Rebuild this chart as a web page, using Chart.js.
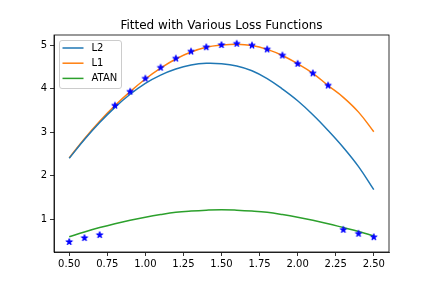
<!DOCTYPE html>
<html>
<head>
<meta charset="utf-8">
<script src="https://cdn.jsdelivr.net/npm/chart.js@4"></script>
<style>
  html, body { margin: 0; padding: 0; background: #fff; }
</style>
</head>
<body>
<canvas id="chart" width="432" height="288"></canvas>
<script>
const xs = [0.5, 0.6, 0.7, 0.8, 0.9, 1.0, 1.1, 1.2, 1.3, 1.4, 1.5,
            1.6, 1.7, 1.8, 1.9, 2.0, 2.1, 2.2, 2.3, 2.4, 2.5]
const observed = [0.48, 0.57, 0.64, 3.61, 3.93, 4.23, 4.48, 4.69, 4.85, 4.95, 5.0,
                  5.03, 4.99, 4.90, 4.76, 4.57, 4.35, 4.07, 0.76, 0.67, 0.59]

// fitted curves
const fitL2 = [2.40, 2.83, 3.22, 3.57, 3.87, 4.12, 4.31, 4.45, 4.54, 4.58, 4.57,
               4.52, 4.41, 4.23, 3.99, 3.72, 3.40, 3.04, 2.65, 2.21, 1.68]
const fitL1 = [2.41, 2.85, 3.25, 3.61, 3.93, 4.22, 4.47, 4.68, 4.84, 4.95, 5.00,
               5.02, 4.99, 4.90, 4.76, 4.57, 4.35, 4.07, 3.80, 3.46, 3.01]
const fitAtan = [0.60, 0.71, 0.81, 0.90, 0.98, 1.05, 1.11, 1.16, 1.19, 1.21, 1.22,
                 1.21, 1.19, 1.16, 1.11, 1.05, 0.98, 0.90, 0.81, 0.72, 0.62]

const xTicks = [0.5, 0.75, 1.0, 1.25, 1.5, 1.75, 2.0, 2.25, 2.5]
const yTicks = [1, 2, 3, 4, 5]

const title = 'Fitted with Various Loss Functions'
const FONT = 'DejaVu Sans'

const pts = (ys) => xs.map((x, i) => ({ x: x, y: ys[i] }))

// matplotlib-like filled star marker
function starMarker(color, r) {
  const size = Math.ceil(r * 2 + 3)
  const c = document.createElement('canvas')
  c.width = size
  c.height = size
  const g = c.getContext('2d')
  const cx = size / 2, cy = size / 2, inner = r * 0.381
  g.beginPath()
  for (let i = 0; i < 10; i++) {
    const rad = i % 2 === 0 ? r : inner
    const a = -Math.PI / 2 + i * Math.PI / 5
    const px = cx + rad * Math.cos(a), py = cy + rad * Math.sin(a)
    if (i === 0) g.moveTo(px, py)
    else g.lineTo(px, py)
  }
  g.closePath()
  g.fillStyle = color
  g.fill()
  g.strokeStyle = color
  g.lineWidth = 1
  g.lineJoin = 'miter'
  g.stroke()
  return c
}

// full box around the plot area + title centred over it
const frame = {
  id: 'frame',
  afterDraw(chart) {
    const { ctx, chartArea: a } = chart
    ctx.save()
    ctx.strokeStyle = '#000'
    ctx.lineWidth = 0.8
    ctx.strokeRect(a.left, a.top, a.right - a.left, a.bottom - a.top)
    ctx.fillStyle = '#000'
    ctx.font = '12px "' + FONT + '"'
    ctx.textAlign = 'center'
    ctx.textBaseline = 'alphabetic'
    ctx.fillText(title, (a.left + a.right) / 2, a.top - 6)
    ctx.restore()
  },
}

// legend box in the upper left corner of the plot
const boxLegend = {
  id: 'boxLegend',
  afterDraw(chart) {
    const { ctx, chartArea: a } = chart
    const items = chart.data.datasets.filter((d) => d.showLine)
    const left = a.left + 5.5, top = a.top + 5.5
    const w = 62, h = 48
    ctx.save()
    ctx.beginPath()
    ctx.roundRect(left, top, w, h, 2.5)
    ctx.fillStyle = 'rgba(255,255,255,0.8)'
    ctx.fill()
    ctx.strokeStyle = '#cccccc'
    ctx.lineWidth = 1
    ctx.stroke()
    ctx.font = '10px "' + FONT + '"'
    ctx.textBaseline = 'middle'
    items.forEach((d, i) => {
      const y = top + 7.5 + i * 15.2
      ctx.beginPath()
      ctx.moveTo(left + 3, y)
      ctx.lineTo(left + 24, y)
      ctx.strokeStyle = d.borderColor
      ctx.lineWidth = 1.5
      ctx.stroke()
      ctx.fillStyle = '#000'
      ctx.fillText(d.label, left + 32, y + 0.5)
    })
    ctx.restore()
  },
}

const lineSet = (label, data, color) => ({
  label: label,
  data: pts(data),
  showLine: true,
  borderColor: color,
  backgroundColor: color,
  borderWidth: 1.5,
  pointRadius: 0,
  tension: 0.4,
})

new Chart(document.getElementById('chart'), {
  type: 'scatter',
  data: {
    datasets: [
      {
        label: 'data',
        data: pts(observed),
        pointStyle: starMarker('#0000ff', 3.4),
        pointRadius: 4,
        showLine: false,
      },
      lineSet('L2', fitL2, '#1f77b4'),
      lineSet('L1', fitL1, '#ff7f0e'),
      lineSet('ATAN', fitAtan, '#2ca02c'),
    ],
  },
  options: {
    responsive: false,
    animation: false,
    devicePixelRatio: 1,
    layout: { padding: { left: 0, right: 43, top: 35, bottom: 0 } },
    plugins: {
      legend: { display: false },
      tooltip: { enabled: false },
      title: { display: false },
    },
    scales: {
      x: {
        type: 'linear',
        min: 0.4,
        max: 2.6,
        afterFit: (s) => { s.height = 36 },
        afterBuildTicks: (s) => { s.ticks = xTicks.map((v) => ({ value: v })) },
        grid: { drawOnChartArea: false, drawTicks: true, tickLength: 4, color: '#000', lineWidth: 0.8 },
        border: { color: '#000', width: 0.8 },
        ticks: {
          color: '#000',
          padding: 2,
          maxRotation: 0,
          font: { family: FONT, size: 10 },
          callback: (v) => Number(v).toFixed(2),
        },
      },
      y: {
        type: 'linear',
        min: 0.25,
        max: 5.23,
        afterFit: (s) => { s.width = 54 },
        afterBuildTicks: (s) => { s.ticks = yTicks.map((v) => ({ value: v })) },
        grid: { drawOnChartArea: false, drawTicks: true, tickLength: 4, color: '#000', lineWidth: 0.8 },
        border: { color: '#000', width: 0.8 },
        ticks: {
          color: '#000',
          padding: 3,
          font: { family: FONT, size: 10 },
          callback: (v) => String(v),
        },
      },
    },
  },
  plugins: [frame, boxLegend],
})
</script>
</body>
</html>
